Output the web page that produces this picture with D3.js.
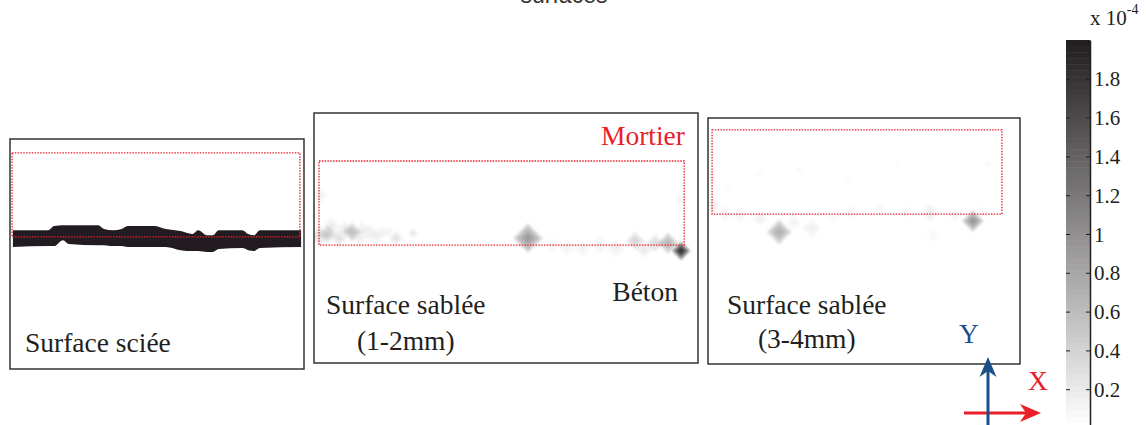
<!DOCTYPE html>
<html>
<head>
<meta charset="utf-8">
<script src="https://cdn.jsdelivr.net/npm/d3@7"></script>
<style>
  body { margin: 0; background: #fff; }
  svg { display: block; }
  text { font-family: "Liberation Serif", "Tinos", "Times New Roman", "DejaVu Serif", serif; }
</style>
</head>
<body>
<svg id="chart" width="1146" height="425"></svg>
<script>
// ---- colour scale (strain, x 1e-4) ----
const colorDomain = [0, 2];
const colorTicks = [0.2, 0.4, 0.6, 0.8, 1, 1.2, 1.4, 1.6, 1.8];
const colorLevels = 64;

// ---- specimens ----
const panelTitles = ["Surface sciée", "Surface sablée", "Surface sablée"];
const panelSubtitles = ["", "(1-2mm)", "(3-4mm)"];
const panelWidth = [100, 100, 100];       // field width (units)
const panelHeight = [78.2, 65.1, 78.8];   // field height (units)

// interface zone outlined in each field: [x0, y0, x1, y1]
const zone1 = [0.7, 4.7, 98.6, 33.3];
const zone2 = [1.3, 12.5, 96.4, 34.4];
const zone3 = [1.3, 3.8, 94.2, 30.8];

// sawn surface: continuous saturated strain band along the interface
const bandX      = [1, 13, 15, 18, 20, 30, 32, 35, 38, 40, 49, 53, 58, 62, 64, 67, 69, 71, 79, 81, 83, 85, 99];
const bandTop    = [31.0, 31.0, 29.6, 29.3, 29.3, 29.3, 30.6, 31.0, 30.6, 29.6, 29.6, 30.6, 31.3, 32.3, 31.0, 32.7, 32.7, 31.0, 31.0, 32.3, 32.7, 31.0, 31.0];
const bandBottom = [36.7, 36.4, 36.4, 34.4, 35.7, 36.1, 36.1, 36.4, 36.4, 36.7, 36.7, 36.7, 37.8, 38.1, 38.1, 38.4, 38.4, 37.4, 37.1, 37.8, 38.1, 37.1, 36.7];
const bandValue = 2.4;

// sandblasted surfaces: local strain concentrations [x, y, spread, peak]
const spots2 = [
  [1.6, 21.4, 2.3, 0.14],
  [1.5, 32.0, 3.0, 0.30],
  [3.6, 31.5, 2.5, 0.45],
  [4.5, 29.5, 2.5, 0.20],
  [6.5, 32.6, 2.3, 0.30],
  [8.0, 30.2, 2.3, 0.20],
  [9.9, 31.0, 2.6, 0.60],
  [12.0, 32.5, 2.3, 0.18],
  [12.5, 30.0, 2.0, 0.15],
  [14.5, 31.0, 2.3, 0.18],
  [16.0, 32.5, 2.0, 0.15],
  [17.5, 31.2, 2.1, 0.14],
  [19.5, 31.0, 1.8, 0.12],
  [21.4, 32.6, 1.9, 0.30],
  [25.8, 31.3, 1.5, 0.22],
  [55.7, 32.6, 4.0, 0.95],
  [62.0, 34.4, 2.3, 0.10],
  [66.0, 35.0, 2.5, 0.12],
  [70.0, 35.4, 2.5, 0.12],
  [74.5, 34.4, 2.5, 0.15],
  [78.5, 35.2, 2.8, 0.15],
  [83.6, 33.3, 2.6, 0.40],
  [86.0, 35.4, 2.5, 0.22],
  [88.8, 33.9, 2.5, 0.35],
  [92.2, 33.9, 2.9, 0.70],
  [95.6, 35.9, 2.5, 2.00],
  [95.5, 23.0, 1.8, 0.10]
];
const spots3 = [
  [1.6, 27.9, 2.8, 0.18],
  [5.5, 30.5, 2.8, 0.12],
  [10.3, 31.1, 2.8, 0.12],
  [16.7, 32.1, 2.8, 0.14],
  [22.8, 36.5, 4.2, 0.75],
  [27.5, 33.5, 2.8, 0.12],
  [33.3, 35.3, 3.4, 0.16],
  [40.0, 32.0, 2.4, 0.08],
  [45.5, 30.1, 2.8, 0.10],
  [55.1, 29.5, 2.4, 0.10],
  [63.1, 30.1, 2.4, 0.10],
  [71.2, 30.4, 3.4, 0.18],
  [72.1, 37.5, 2.8, 0.08],
  [79.2, 30.8, 2.8, 0.12],
  [84.9, 33.0, 3.6, 1.00],
  [88.0, 30.0, 2.2, 0.10],
  [16.5, 18.0, 1.8, 0.06],
  [29.5, 16.5, 1.8, 0.06],
  [45.0, 19.5, 1.8, 0.06],
  [61.0, 15.0, 1.8, 0.06],
  [90.0, 14.5, 2.0, 0.07],
  [6.0, 22.0, 1.8, 0.06]
];

// ---- layout ----
const svg = d3.select("#chart");
const boxes = [
  { left: 10,  top: 139, right: 304,  bottom: 369 },
  { left: 314, top: 113, right: 698,  bottom: 363 },
  { left: 708, top: 118, right: 1020, bottom: 364 }
];
const zones = [zone1, zone2, zone3];
const spotSets = [null, spots2, spots3];

const colorScale = d3.scaleQuantize()
  .domain(colorDomain)
  .range(d3.quantize(d3.interpolateRgb("#ffffff", "#231f20"), colorLevels));

const defs = svg.append("defs");
defs.append("filter").attr("id", "soft")
  .attr("x", "-10%").attr("y", "-10%").attr("width", "120%").attr("height", "120%")
  .append("feGaussianBlur").attr("stdDeviation", 1.1);
defs.append("filter").attr("id", "softer")
  .append("feGaussianBlur").attr("stdDeviation", 0.5);

// partly visible heading above the figure
svg.append("text")
  .attr("x", 564).attr("y", 3)
  .attr("text-anchor", "middle")
  .style("font-family", "'Liberation Sans', Arial, sans-serif")
  .style("font-size", "23px")
  .attr("fill", "#333")
  .text("surfaces");

boxes.forEach((b, i) => {
  const x = d3.scaleLinear().domain([0, panelWidth[i]]).range([b.left, b.right]);
  const y = d3.scaleLinear().domain([0, panelHeight[i]]).range([b.top, b.bottom]);
  const k = x(1) - x(0);
  const g = svg.append("g");

  const clipId = "clip" + i;
  defs.append("clipPath").attr("id", clipId)
    .append("rect").attr("x", b.left).attr("y", b.top)
    .attr("width", b.right - b.left).attr("height", b.bottom - b.top);

  const heat = g.append("g").attr("clip-path", `url(#${clipId})`);

  if (i === 0) {
    const band = bandX.map((v, j) => ({ x: v, t: bandTop[j], b: bandBottom[j] }));
    heat.append("path")
      .datum(band)
      .attr("d", d3.area().x(d => x(d.x)).y0(d => y(d.t)).y1(d => y(d.b)).curve(d3.curveMonotoneX))
      .attr("fill", colorScale(bandValue))
      .attr("filter", "url(#softer)");
  } else {
    const layer = heat.append("g").attr("filter", "url(#soft)");
    const nLev = 14;
    spotSets[i].forEach(s => {
      const [cx, cy, r, p] = s;
      const sg = layer.append("g").style("mix-blend-mode", "multiply");
      const px = x(cx), py = y(cy);
      // strain falls off as sqrt of distance to the rim
      d3.range(nLev).forEach(j => {
        const v = p * (j + 0.5) / nLev;
        const h = r * k * (1 - Math.pow(j / nLev, 2));
        sg.append("path")
          .attr("d", `M${px},${py - h}L${px + h},${py}L${px},${py + h}L${px - h},${py}Z`)
          .attr("fill", colorScale(v));
      });
    });
  }

  // outlined interface zone
  const z = zones[i];
  g.append("rect")
    .attr("x", x(z[0])).attr("y", y(z[1]))
    .attr("width", x(z[2]) - x(z[0])).attr("height", y(z[3]) - y(z[1]))
    .attr("fill", "none")
    .attr("stroke", "#e8202a")
    .attr("stroke-width", 1.3)
    .attr("stroke-dasharray", "1.5,1.3");

  // frame
  g.append("rect")
    .attr("x", b.left).attr("y", b.top)
    .attr("width", b.right - b.left).attr("height", b.bottom - b.top)
    .attr("fill", "none")
    .attr("stroke", "#333")
    .attr("stroke-width", 1.5);

  // labels
  const fs = "27.5px";
  if (i === 0) {
    g.append("text").attr("x", b.left + 15).attr("y", 352)
      .style("font-size", fs).attr("fill", "#231f20").text(panelTitles[i]);
  } else {
    const t = g.append("text").attr("x", b.left + (i === 1 ? 12 : 19)).attr("y", 314)
      .style("font-size", fs).attr("fill", "#231f20").text(panelTitles[i]);
    const bb = t.node().getBBox();
    g.append("text").attr("x", bb.x + bb.width / 2).attr("y", i === 1 ? 350 : 348)
      .attr("text-anchor", "middle")
      .style("font-size", fs).attr("fill", "#231f20").text(panelSubtitles[i]);
  }
  if (i === 1) {
    g.append("text").attr("x", 685).attr("y", 145).attr("text-anchor", "end")
      .style("font-size", fs).attr("fill", "#e8202a").text("Mortier");
    g.append("text").attr("x", 678).attr("y", 301).attr("text-anchor", "end")
      .style("font-size", fs).attr("fill", "#231f20").text("Béton");
  }
});

// ---- colour bar ----
const cbLeft = 1066, cbRight = 1090;
const cy = d3.scaleLinear().domain(colorDomain).range([428, 40]);
const cb = svg.append("g");
const step = (colorDomain[1] - colorDomain[0]) / colorLevels;
cb.selectAll("rect.lev")
  .data(d3.range(colorLevels))
  .join("rect")
  .attr("class", "lev")
  .attr("x", cbLeft)
  .attr("width", cbRight - cbLeft)
  .attr("y", d => cy(colorDomain[0] + (d + 1) * step))
  .attr("height", d => cy(colorDomain[0] + d * step) - cy(colorDomain[0] + (d + 1) * step) + 0.5)
  .attr("fill", d => colorScale(colorDomain[0] + (d + 0.5) * step));

const axR = cb.append("g").attr("transform", `translate(${cbRight},0)`)
  .call(d3.axisRight(cy).tickValues(colorTicks).tickSizeInner(-4).tickSizeOuter(0).tickPadding(4)
    .tickFormat(d3.format("~g")));
axR.attr("font-family", null);
axR.select(".domain").attr("stroke", "#231f20").attr("stroke-width", 1.5);
axR.selectAll(".tick line").attr("stroke", "#231f20");
axR.selectAll(".tick text")
  .style("font-size", "21px").attr("fill", "#231f20").attr("dy", "0.34em");

const axL = cb.append("g").attr("transform", `translate(${cbLeft},0)`)
  .call(d3.axisLeft(cy).tickValues(colorTicks).tickSizeInner(-4).tickSizeOuter(0).tickFormat(""));
axL.select(".domain").remove();
axL.selectAll(".tick line").attr("stroke", "#231f20");

const expo = cb.append("text").attr("x", 1090).attr("y", 25)
  .style("font-size", "21px").attr("fill", "#231f20");
expo.append("tspan").text("x 10");
expo.append("tspan").attr("dy", -11).style("font-size", "14px").text("-4");

// ---- orientation arrows ----
const ax = svg.append("g");
const red = "#e8202a", blue = "#1c4f88";
ax.append("line").attr("x1", 964).attr("y1", 413).attr("x2", 1030).attr("y2", 413)
  .attr("stroke", red).attr("stroke-width", 3);
ax.append("path").attr("d", "M1041,413L1020,404L1026,413L1020,422Z").attr("fill", red);
ax.append("line").attr("x1", 988).attr("y1", 426).attr("x2", 988).attr("y2", 368)
  .attr("stroke", blue).attr("stroke-width", 3);
ax.append("path").attr("d", "M988,357L979.5,377L988,371L996.5,377Z").attr("fill", blue);
ax.append("text").attr("x", 1038).attr("y", 390).attr("text-anchor", "middle")
  .style("font-size", "27.5px").attr("fill", red).text("X");
ax.append("text").attr("x", 969).attr("y", 343).attr("text-anchor", "middle")
  .style("font-size", "27.5px").attr("fill", blue).text("Y");
</script>
</body>
</html>
